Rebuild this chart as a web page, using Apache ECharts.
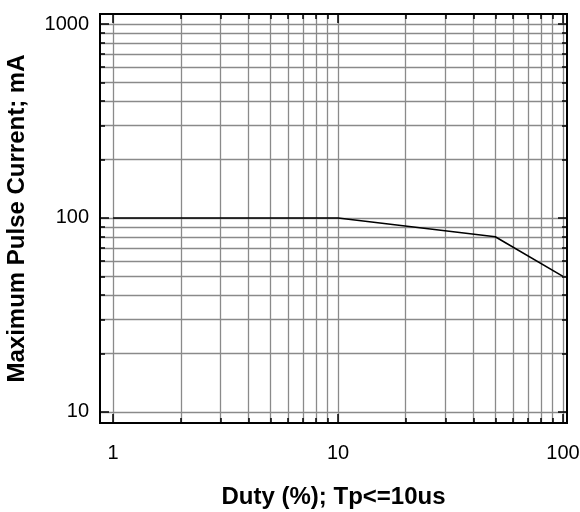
<!DOCTYPE html>
<html><head><meta charset="utf-8">
<script src="https://cdn.jsdelivr.net/npm/echarts@6/dist/echarts.min.js"></script>
<style>html,body{margin:0;padding:0;background:#fff}#c{width:580px;height:512px}</style>
</head><body><div id="c"></div>
<script>
const dutyValues = [1, 10, 50, 100];
const currentValues = [100, 100, 80, 50];
const xGridValues = [1,2,3,4,5,6,7,8,9,10,20,30,40,50,60,70,80,90,100];
const yGridValues = [10,20,30,40,50,60,70,80,90,100,200,300,400,500,600,700,800,900,1000];
const xTickLabels = [1, 10, 100];
const yTickLabels = [10, 100, 1000];

const font = 'Liberation Sans, Arial, sans-serif';
const chart = echarts.init(document.getElementById('c'));
function xAx(pos, main, ticks, len) {
  return {
    type: 'log', logBase: 10, position: pos, min: 0.875, max: 104.2,
    axisLine: {show: true, onZero: false, lineStyle: {color: '#000', width: 2}},
    axisTick: {show: true, inside: true, length: len, customValues: ticks, lineStyle: {color: '#000', width: 1.5}},
    axisLabel: main ? {show: true, customValues: xTickLabels, formatter: v => String(v), fontFamily: font, fontSize: 20, color: '#000', margin: 20} : {show: false},
    splitLine: {show: main, lineStyle: {color: '#8a8a8a', width: 1.3}},
    name: main ? 'Duty (%); Tp<=10us' : '',
    nameLocation: 'middle', nameGap: 62,
    nameTextStyle: {fontFamily: font, fontSize: 24, fontWeight: 'bold', color: '#000'}
  };
}
function yAx(pos, main, ticks, len) {
  return {
    type: 'log', logBase: 10, position: pos, min: 8.77, max: 1126,
    axisLine: {show: true, onZero: false, lineStyle: {color: '#000', width: 2}},
    axisTick: {show: true, inside: true, length: len, customValues: ticks, lineStyle: {color: '#000', width: 1.5}},
    axisLabel: main ? {show: true, customValues: yTickLabels, formatter: v => String(v), fontFamily: font, fontSize: 20, color: '#000', margin: 11} : {show: false},
    splitLine: {show: main, lineStyle: {color: '#8a8a8a', width: 1.3}},
    name: main ? 'Maximum Pulse Current; mA' : '',
    nameLocation: 'middle', nameGap: 71,
    nameTextStyle: {fontFamily: font, fontSize: 24, fontWeight: 'bold', color: '#000'}
  };
}
chart.setOption({
  animation: false,
  grid: {left: 100, right: 13, top: 14, bottom: 89, containLabel: false, outerBoundsMode: 'none'},
  xAxis: [xAx('bottom', true, xGridValues, 5), xAx('top', false, xGridValues, 5),
          xAx('bottom', false, xTickLabels, 9), xAx('top', false, xTickLabels, 9)],
  yAxis: [yAx('left', true, yGridValues, 5), yAx('right', false, yGridValues, 5),
          yAx('left', false, yTickLabels, 9), yAx('right', false, yTickLabels, 9)],
  series: [{
    type: 'line', xAxisIndex: 0, yAxisIndex: 0,
    data: dutyValues.map((d, i) => [d, currentValues[i]]),
    showSymbol: false, lineStyle: {color: '#000', width: 1.6}
  }]
});
</script></body></html>
